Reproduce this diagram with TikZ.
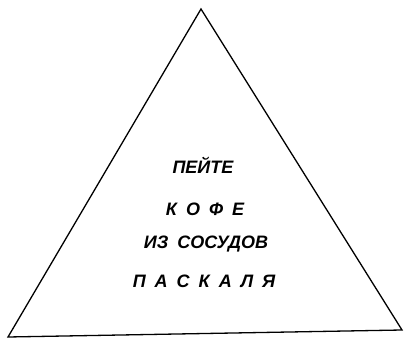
\documentclass[tikz,border=0pt]{standalone}
\usepackage{fontspec}
\setmainfont{Liberation Sans}
\newcommand{\gp}{\hspace{0.5em}}
\begin{document}
\begin{tikzpicture}[x=1pt,y=-1pt,
  lbl/.style={font=\bfseries\itshape\fontsize{18}{18}\selectfont, inner sep=0pt, anchor=center},
  edge/.style={line width=1.3pt, line join=miter}]
\useasboundingbox (0,0) rectangle (408,345);
\coordinate (apex) at (201,9);
\coordinate (bl) at (8,337);
\coordinate (br) at (402,330);
\draw[edge] (apex) -- (br) -- (bl) -- cycle;
\node[lbl] (l1) at (203,165) {ПЕЙТЕ};
\node[lbl] (l2) at (205,209) {К\gp О\gp Ф\gp Е};
\node[lbl] (l3) at (206,244) {ИЗ\gp СОСУДОВ};
\node[lbl] (l4) at (204,281) {П\gp А\gp С\gp К\gp А\gp Л\gp Я};
\end{tikzpicture}
\end{document}
